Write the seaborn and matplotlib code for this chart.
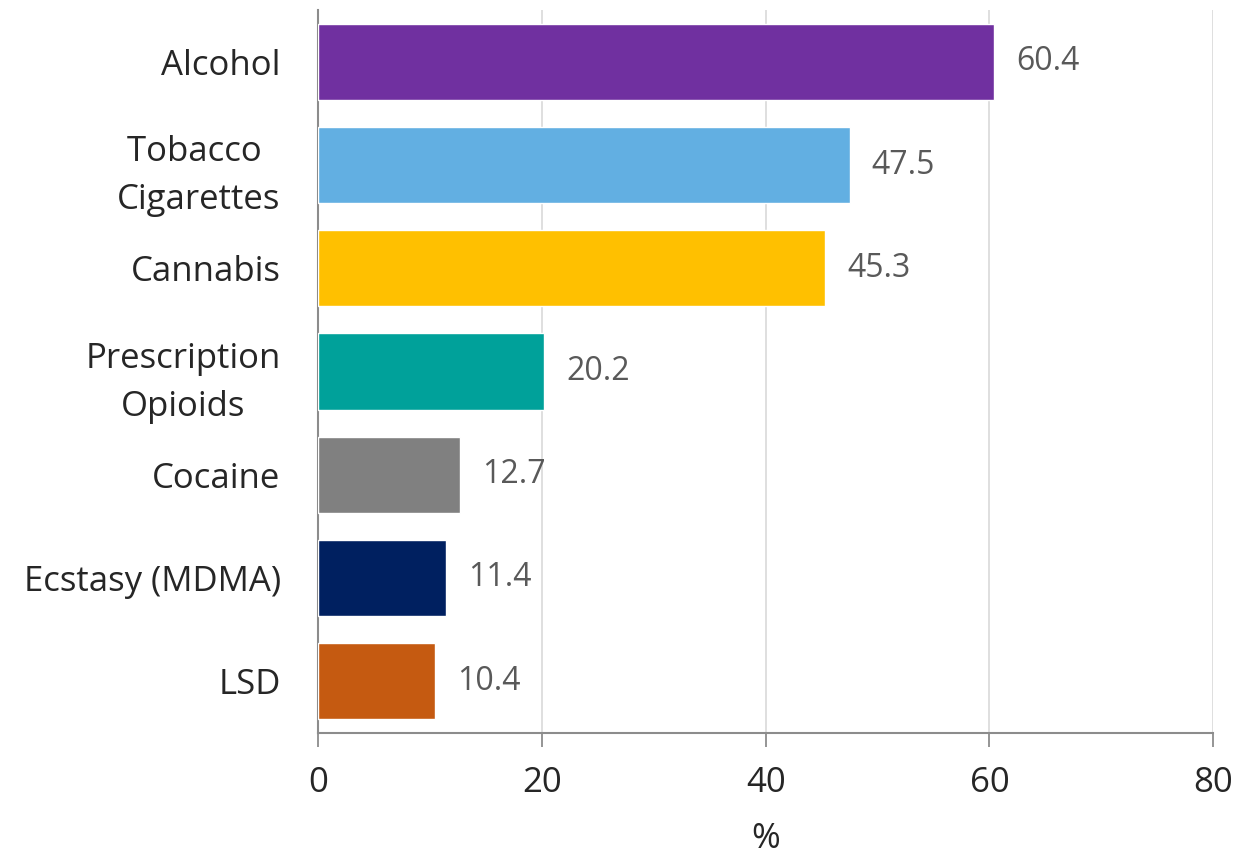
import matplotlib
matplotlib.use("Agg")
import matplotlib.pyplot as plt
import seaborn as sns
import pandas as pd

categories = ["Alcohol", "Tobacco \nCigarettes", "Cannabis", "Prescription\nOpioids",
              "Cocaine", "Ecstasy (MDMA)", "LSD"]
values = [60.4, 47.5, 45.3, 20.2, 12.7, 11.4, 10.4]
colors = ["#7030A0", "#62AFE2", "#FFC000", "#00A19A", "#808080", "#002060", "#C55A11"]
x_ticks = [0, 20, 40, 60, 80]

sns.set_theme(style="white")
plt.rcParams["font.family"] = ["Open Sans", "DejaVu Sans"]

df = pd.DataFrame({"cat": categories, "val": values})

fig = plt.figure(figsize=(12.38, 8.58), dpi=100)
ax = fig.add_axes([0.257, 0.146, 0.723, 0.842])

sns.barplot(data=df, x="val", y="cat", hue="cat", palette=colors, legend=False,
            width=0.74, ax=ax, saturation=1, zorder=3)

ax.set_xlim(0, 80)
ax.set_ylim(6.5, -0.5)
ax.set_xticks(x_ticks)
ax.xaxis.grid(True, color="#d9d9d9", linewidth=1.2, zorder=0)
ax.set_axisbelow(True)

for s in ["top", "right"]:
    ax.spines[s].set_visible(False)
for s in ["left", "bottom"]:
    ax.spines[s].set_color("#8c8c8c")
    ax.spines[s].set_linewidth(1.5)

ax.tick_params(axis="x", which="both", bottom=True, length=10, width=1.3,
               color="#8c8c8c", labelsize=25, labelcolor="#262626", pad=14)
ax.tick_params(axis="y", left=False, labelsize=25, labelcolor="#262626", pad=21)

for lbl in ax.get_yticklabels():
    lbl.set_horizontalalignment("right")
    lbl.set_multialignment("center")
    lbl.set_linespacing(1.55)

for i, v in enumerate(values):
    ax.annotate(f"{v:.1f}", xy=(v, i), xytext=(16, 0), textcoords="offset points",
                va="center", ha="left", fontsize=23, color="#595959")

ax.set_ylabel("")
ax.set_xlabel("%", fontsize=25, color="#262626", labelpad=16)

fig.savefig("out.png", dpi=100)
